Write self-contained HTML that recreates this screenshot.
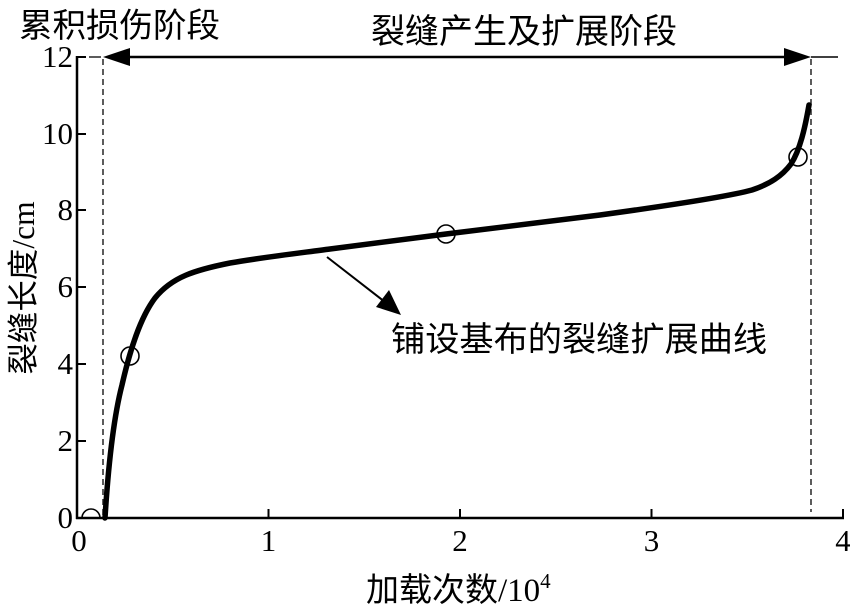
<!DOCTYPE html>
<html>
<head>
<meta charset="utf-8">
<style>
  html,body{margin:0;padding:0;background:#fff;}
  svg{display:block;}
  .cjk{font-family:"Liberation Sans","Noto Sans CJK SC",sans-serif;}
  .num{font-family:"Liberation Serif","Noto Serif CJK SC",serif;}
</style>
</head>
<body>
<svg width="850" height="611" viewBox="0 0 850 611" xmlns="http://www.w3.org/2000/svg">
  <rect width="850" height="611" fill="#fff"/>

  <!-- axes -->
  <g stroke="#000" stroke-width="2.5" fill="none">
    <line x1="77" y1="56" x2="77" y2="519"/>
    <line x1="76" y1="518" x2="844" y2="518"/>
  </g>
  <!-- y ticks (inward) -->
  <g stroke="#000" stroke-width="2">
    <line x1="77" y1="57" x2="86" y2="57"/>
    <line x1="77" y1="134" x2="86" y2="134"/>
    <line x1="77" y1="210" x2="86" y2="210"/>
    <line x1="77" y1="287" x2="86" y2="287"/>
    <line x1="77" y1="364" x2="86" y2="364"/>
    <line x1="77" y1="441" x2="86" y2="441"/>
    <!-- x ticks -->
    <line x1="268.5" y1="518" x2="268.5" y2="509"/>
    <line x1="460" y1="518" x2="460" y2="509"/>
    <line x1="651.5" y1="518" x2="651.5" y2="509"/>
    <line x1="843" y1="518" x2="843" y2="509"/>
  </g>

  <!-- y tick labels -->
  <g class="num" font-size="31" text-anchor="end" fill="#000">
    <text x="73" y="67">12</text>
    <text x="73" y="144">10</text>
    <text x="73" y="220">8</text>
    <text x="73" y="297">6</text>
    <text x="73" y="374">4</text>
    <text x="73" y="451">2</text>
    <text x="73" y="528">0</text>
  </g>
  <!-- x tick labels -->
  <g class="num" font-size="31" text-anchor="middle" fill="#000">
    <text x="79" y="551">0</text>
    <text x="268.5" y="551">1</text>
    <text x="460" y="551">2</text>
    <text x="651.5" y="551">3</text>
    <text x="843" y="551">4</text>
  </g>

  <!-- dashed stage boundaries -->
  <g stroke="#333" stroke-width="1.6" stroke-dasharray="6,4" fill="none">
    <line x1="103" y1="59" x2="103" y2="516"/>
    <line x1="811" y1="59" x2="811" y2="512"/>
  </g>
  <line x1="89" y1="57" x2="101" y2="57" stroke="#333" stroke-width="1.6"/>

  <!-- top double arrow -->
  <line x1="120" y1="57" x2="795" y2="57" stroke="#000" stroke-width="2.5"/>
  <polygon points="103,57 130,48 130,66" fill="#000"/>
  <polygon points="811,57 784,48 784,66" fill="#000"/>
  <line x1="811" y1="57" x2="838" y2="57" stroke="#000" stroke-width="1.6"/>

  <!-- curve -->
  <path d="M105,518 C108,470 113,420 122,385 C130,350 140,318 155,298 C172,277 195,270 230,263 C265,257 300,253 330,249 L446,234 L600,215 C680,204 730,196 752,190 C770,184 782,176 791,164 C800,150 805,128 809,105"
        fill="none" stroke="#000" stroke-width="5.5" stroke-linejoin="round" stroke-linecap="round"/>

  <!-- circle markers -->
  <g fill="none" stroke="#000" stroke-width="1.6">
    <circle cx="130" cy="356" r="9"/>
    <circle cx="446" cy="234" r="9"/>
    <circle cx="798" cy="157" r="9"/>
    <path d="M82,518 A9,9 0 0 1 100,518"/>
  </g>

  <!-- annotation arrow -->
  <line x1="327" y1="257" x2="385" y2="302" stroke="#000" stroke-width="2"/>
  <polygon points="401,315 376,307 389,290" fill="#000"/>

  <!-- labels -->
  <text class="cjk" x="19" y="37" font-size="33.5" fill="#000">累积损伤阶段</text>
  <text class="cjk" x="371" y="43" font-size="34" fill="#000">裂缝产生及扩展阶段</text>
  <text class="cjk" x="391" y="351" font-size="34.2" fill="#000">铺设基布的裂缝扩展曲线</text>

  <text x="366" y="601" font-size="33" fill="#000"><tspan class="cjk">加载次数</tspan><tspan class="num">/10</tspan><tspan class="num" font-size="21" dy="-13">4</tspan></text>

  <text transform="translate(34,288) rotate(-90)" text-anchor="middle" font-size="31.5" fill="#000"><tspan class="cjk">裂缝长度</tspan><tspan class="num">/cm</tspan></text>
</svg>
</body>
</html>
